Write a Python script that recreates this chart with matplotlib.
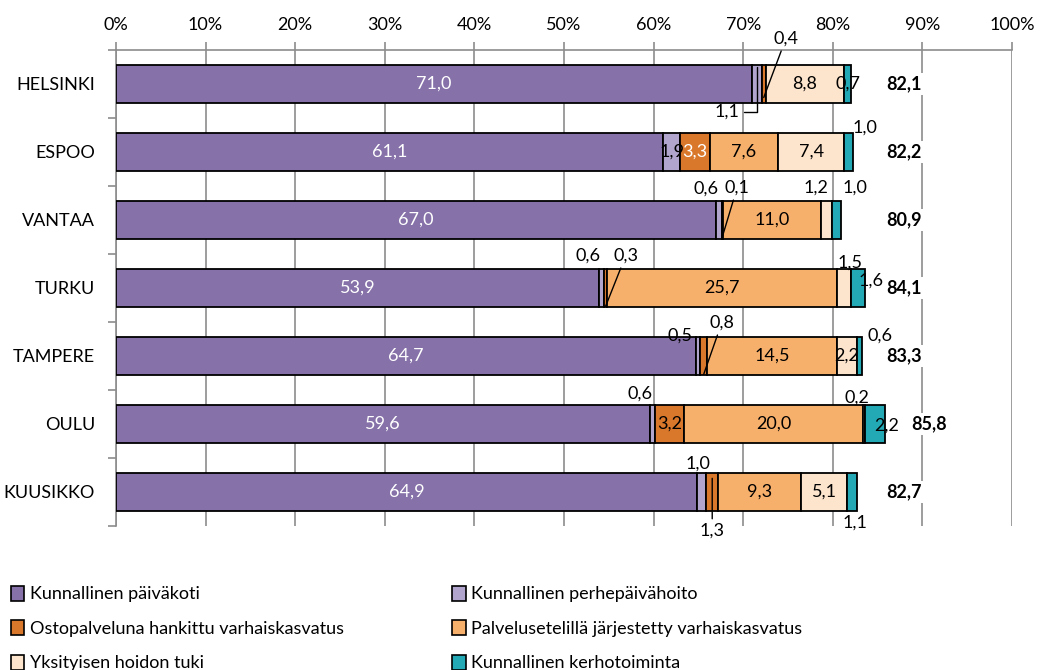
import matplotlib.pyplot as plt
from matplotlib.patches import Patch
import numpy as np

plt.rcParams['font.family'] = ['Lato', 'DejaVu Sans']

#------------------------------------------------------------------------#
# Data (percent of children, by municipality)
#------------------------------------------------------------------------#
cities = ['HELSINKI', 'ESPOO', 'VANTAA', 'TURKU', 'TAMPERE', 'OULU', 'KUUSIKKO']

paivakoti      = [71.0, 61.1, 67.0, 53.9, 64.7, 59.6, 64.9]
perhepaiva     = [1.1, 1.9, 0.6, 0.6, 0.5, 0.6, 1.0]
ostopalvelu    = [0.4, 3.3, 0.1, 0.3, 0.8, 3.2, 1.3]
palveluseteli  = [0.0, 7.6, 11.0, 25.7, 14.5, 20.0, 9.3]
yksityinen     = [8.8, 7.4, 1.2, 1.5, 2.2, 0.2, 5.1]
kerho          = [0.7, 1.0, 1.0, 1.6, 0.6, 2.2, 1.1]
totals         = [82.1, 82.2, 80.9, 84.1, 83.3, 85.8, 82.7]

series_names = ['Kunnallinen päiväkoti', 'Kunnallinen perhepäivähoito',
                'Ostopalveluna hankittu varhaiskasvatus',
                'Palvelusetelillä järjestetty varhaiskasvatus',
                'Yksityisen hoidon tuki', 'Kunnallinen kerhotoiminta']
colors = ['#8672a9', '#b1a5cd', '#d9772a', '#f7b06c', '#fde4cd', '#22a9b5']

#------------------------------------------------------------------------#
# Label placement for small segments:
# (city idx, series idx) -> (dx px, dy px (down) from bar centre,
#                            leader end in bar units or None)
#------------------------------------------------------------------------#
outside = {
    (0, 1): (-30, 28, -0.25), (0, 2): (22, -45, 0.2),
    (1, 5): (16, -24, None),
    (2, 1): (-13, -31, None), (2, 2): (15, -32, 0.26),
    (2, 4): (-11, -32, None), (2, 5): (19, -32, None),
    (3, 1): (-14, -32, None), (3, 2): (20, -32, 0.27),
    (3, 4): (6, -25, None), (3, 5): (13, -7, None),
    (4, 1): (-18, -20, None), (4, 2): (18, -33, 0.27), (4, 5): (20, -20, None),
    (5, 1): (-13, -30, None), (5, 4): (-7, -26, None), (5, 5): (12, 2, None),
    (6, 1): (-4, -28, None), (6, 2): (0, 39, -0.2), (6, 5): (3, 31, None),
}
white_text = {(1, 2)}

data = np.array([paivakoti, perhepaiva, ostopalvelu, palveluseteli, yksityinen, kerho])
y = np.arange(len(cities))

fig = plt.figure(figsize=(10.4, 6.7), dpi=100)
ax_h = 0.7105
ax = fig.add_axes([0.1115, 0.215, 0.8615, ax_h])
px_per_unit = ax_h * 670 / len(cities)

left = np.zeros(len(cities))
for s in range(data.shape[0]):
    ax.barh(y, data[s], left=left, height=0.56, color=colors[s],
            edgecolor='black', linewidth=1.3, zorder=3, label=series_names[s])
    for i in range(len(cities)):
        v = data[s, i]
        if v <= 0:
            continue
        xc = left[i] + v / 2
        txt = f'{v:.1f}'.replace('.', ',')
        if (i, s) in outside:
            dx, dy, lead = outside[(i, s)]
            if lead is None:
                ax.annotate(txt, xy=(xc, y[i]), xytext=(dx, -dy),
                            textcoords='offset pixels', ha='center', va='center',
                            fontsize=13, zorder=5)
            else:
                cs = 'angle,angleA=0,angleB=90,rad=0' if (i, s) == (0, 1) else 'arc3'
                ax.annotate(txt, xy=(xc, y[i] + lead),
                            xytext=(dx, -(dy - lead * px_per_unit)),
                            textcoords='offset pixels', ha='center', va='center',
                            fontsize=13, zorder=5,
                            arrowprops=dict(arrowstyle='-', color='black', lw=1.0,
                                            shrinkA=1, shrinkB=0, connectionstyle=cs))
        else:
            col = 'white' if s == 0 or (i, s) in white_text else 'black'
            ax.text(xc, y[i], txt, ha='center', va='center', fontsize=13,
                    color=col, zorder=5)
    left += data[s]

total_x = [88, 88, 88, 88, 88, 90.8, 88]
for i in range(len(cities)):
    ax.text(total_x[i], y[i], f'{totals[i]:.1f}'.replace('.', ','), ha='center',
            va='center', fontsize=13, fontweight='bold', zorder=4,
            bbox=dict(facecolor='white', edgecolor='none', pad=2))

ax.set_xlim(0, 100)
ax.set_ylim(len(cities) - 0.5, -0.5)
ax.set_xticks(np.arange(0, 101, 10))
ax.set_xticklabels([f'{t}%' for t in range(0, 101, 10)], fontsize=13)
ax.xaxis.tick_top()
ax.tick_params(axis='x', length=6, color='#8c8c8c', width=1.2, pad=6)
ax.set_yticks(y)
ax.set_yticklabels(cities, fontsize=13)
ax.set_yticks(np.arange(-0.5, len(cities), 1), minor=True)
ax.tick_params(axis='y', which='major', length=0, pad=15)
ax.tick_params(axis='y', which='minor', length=6, color='#8c8c8c', width=1.2)
ax.grid(axis='x', color='#8c8c8c', linewidth=1.2, zorder=0)
ax.set_axisbelow(True)
for sp in ['bottom', 'right']:
    ax.spines[sp].set_visible(False)
for sp in ['top', 'left']:
    ax.spines[sp].set_color('#8c8c8c')
    ax.spines[sp].set_linewidth(1.2)

handles = [Patch(facecolor=c, edgecolor='black', linewidth=1.2) for c in colors]
order = [0, 2, 4, 1, 3, 5]
fig.legend([handles[k] for k in order], [series_names[k] for k in order],
           loc='upper left', bbox_to_anchor=(0.0, 0.142), ncol=2, frameon=False,
           fontsize=13, handlelength=0.75, handleheight=0.9, handletextpad=0.3,
           columnspacing=6.0, labelspacing=0.98, borderaxespad=0.2)

plt.savefig('out.png', dpi=100)
